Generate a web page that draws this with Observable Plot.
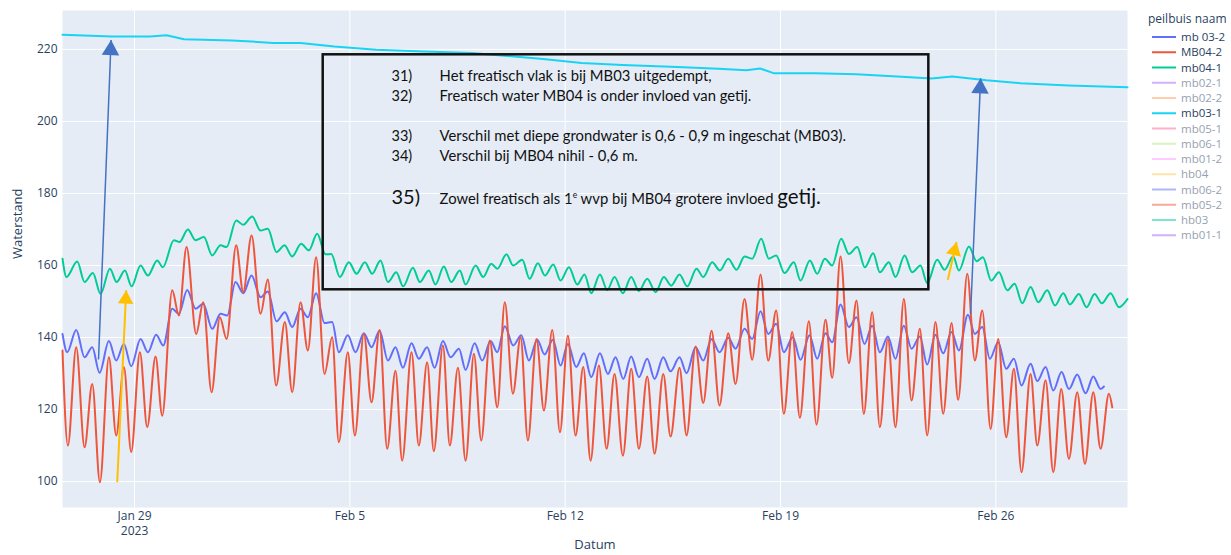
<!DOCTYPE html>
<html><head><meta charset="utf-8">
<script src="https://cdn.jsdelivr.net/npm/d3@7"></script>
<script src="https://cdn.jsdelivr.net/npm/@observablehq/plot@0.6"></script>
<style>
body{margin:0;background:#fff;}
#wrap{position:relative;width:1231px;height:555px;overflow:hidden;font-family:"Open Sans",sans-serif;}
#legend{position:absolute;left:1140px;top:0;}
</style></head><body>
<div id="wrap"><div id="chart"></div><svg id="legend" width="91" height="250"></svg></div>
<script>
// ---- data: time in hours after 2023-01-29 00:00 UTC, Waterstand values ----
const baseDate = "2023-01-29T00:00:00Z";

// mb 03-2 (purple)
const mb03_2_hours = [-56.2,-52.5,-45.5,-39.0,-33.0,-27.3,-20.0,-14.3,-8.3,-2.6,4.7,10.4,16.9,22.4,29.4,34.6,41.1,47.6,53.6,60.6,67.1,72.3,78.8,84.8,91.3,98.3,104.0,110.8,117.3,123.0,129.5,135.2,141.7,148.2,154.2,159.4,166.4,172.4,178.9,184.9,191.2,197.7,203.6,209.4,216.1,221.8,228.3,234.1,240.6,246.6,253.1,258.3,265.3,271.3,277.8,283.0,288.9,295.4,301.7,307.7,314.2,319.9,326.4,332.4,338.1,344.6,350.6,356.3,363.1,369.3,375.3,381.3,387.5,393.5,400.0,405.7,412.5,418.2,425.2,430.7,437.7,443.7,450.2,456.4,463.2,468.9,475.9,481.9,488.4,494.4,500.6,506.6,513.6,519.6,526.6,532.6,539.1,544.3,550.8,557.3,563.3,569.5,575.5,581.5,587.8,593.7,600.2,606.2,612.7,618.4,624.9,630.9,637.4,643.2,650.2,655.6,661.4,667.3,673.8,680.1,686.1,692.0,699.1,704.3,710.8,716.8,723.3,729.0,735.5,742.0,748.0,753.7,756.3];
const mb03_2_level = [141.0,135.9,142.1,134.5,137.3,130.2,139.0,133.6,138.2,132.0,139.6,135.9,140.8,137.8,148.0,146.6,153.2,148.0,149.4,142.4,146.6,146.1,155.4,152.3,157.2,151.2,152.8,144.5,147.0,142.9,148.0,145.6,152.3,144.0,144.3,135.9,140.6,135.9,141.2,137.3,141.9,133.6,137.3,131.6,138.4,134.1,137.3,131.6,139.0,134.5,136.9,131.0,138.4,133.6,139.0,135.9,143.1,137.8,140.6,133.6,139.4,135.3,139.4,132.2,138.2,131.8,135.6,129.0,135.6,129.9,134.5,128.5,134.7,129.0,134.1,128.5,134.5,130.6,134.5,130.1,137.3,133.6,139.6,135.9,139.9,136.9,142.4,139.6,147.3,141.0,143.8,135.9,140.1,133.8,140.6,134.1,141.2,138.7,149.2,142.9,145.6,138.2,143.3,135.9,140.3,134.1,143.3,136.9,140.3,132.5,140.8,135.6,141.5,136.4,146.3,141.0,142.9,134.1,138.7,131.3,134.1,126.7,132.7,127.9,131.8,125.3,130.4,125.7,129.7,124.5,129.2,125.7,126.4];

// MB04-2 (red)
const mb04_2_hours = [-56.2,-52.0,-45.5,-39.0,-33.0,-27.0,-20.0,-14.3,-8.3,-2.6,4.2,9.9,16.4,21.6,29.4,34.6,40.6,48.1,53.6,60.1,66.6,71.8,79.3,84.8,91.3,98.3,104.0,110.5,117.3,123.0,129.5,135.2,141.7,148.2,154.2,159.4,166.4,171.9,178.9,184.9,191.2,197.1,203.6,208.8,216.1,221.8,228.3,233.5,240.6,246.0,252.3,258.3,264.8,270.5,277.2,283.0,288.9,295.2,301.2,306.9,313.6,319.4,325.9,331.9,338.1,344.1,350.1,355.8,362.3,368.3,374.5,381.0,387.5,393.5,400.0,405.7,412.5,418.2,425.2,430.7,437.7,443.7,450.2,456.4,463.2,468.9,475.9,481.9,488.4,494.4,500.6,506.6,513.1,519.1,526.1,532.1,539.1,544.3,550.8,557.3,563.3,569.0,575.5,581.5,587.8,593.7,600.2,606.2,612.7,618.4,624.9,630.9,637.4,642.6,649.7,655.6,661.4,667.9,673.8,680.1,686.1,692.0,699.1,704.3,710.8,716.8,723.0,729.0,735.5,741.5,748.0,753.7,760.2,762.8];
const mb04_2_level = [136.4,110.0,137.3,109.5,127.1,99.8,134.5,112.8,131.8,108.2,135.9,115.1,134.7,118.3,153.1,146.1,165.1,141.0,149.8,124.8,145.6,139.6,165.6,152.6,168.3,146.6,156.1,126.7,144.3,124.8,149.8,136.4,162.3,129.9,140.1,110.9,135.9,112.8,141.0,122.0,142.1,109.1,130.8,105.8,135.9,110.0,133.1,108.4,137.8,110.0,131.6,105.8,135.5,111.4,139.2,120.6,149.8,124.4,140.1,111.4,139.6,119.7,142.1,113.7,140.5,112.8,131.8,105.8,132.2,109.1,129.9,107.2,131.3,109.1,129.2,107.7,129.9,112.5,131.6,112.8,137.5,121.8,141.9,121.1,141.2,127.1,150.7,133.8,157.5,133.6,147.5,118.8,141.5,117.7,144.5,115.8,144.9,128.8,162.5,132.9,150.3,118.8,147.0,115.1,139.6,115.1,150.7,122.5,142.4,112.8,144.3,118.8,144.0,122.7,157.7,133.6,147.5,114.6,139.6,112.3,131.3,102.6,129.9,110.0,128.1,102.6,125.7,106.3,124.8,104.9,124.8,109.1,124.4,120.6];

// mb04-1 (green)
const mb04_1_hours = [-56.2,-53.1,-44.7,-39.0,-32.5,-26.5,-19.2,-14.0,-7.5,-2.3,4.7,10.4,17.7,22.1,30.7,35.1,41.6,47.6,54.1,60.6,67.1,71.8,79.3,84.8,91.8,98.3,104.0,110.8,117.0,123.0,130.0,136.0,142.5,149.0,153.5,160.2,167.2,173.2,179.7,185.4,191.9,197.7,204.2,209.6,217.2,222.6,229.6,234.8,241.3,247.1,253.8,258.3,266.1,272.0,278.3,283.0,290.2,295.4,302.5,308.2,314.7,320.2,326.7,332.4,338.9,345.4,351.1,356.3,363.1,368.8,374.5,381.0,387.5,393.5,400.0,406.5,413.0,418.7,425.2,431.2,438.5,443.7,450.7,456.7,463.2,469.7,475.9,481.9,488.9,494.9,500.6,507.1,514.4,519.6,526.9,532.6,538.6,544.3,551.3,557.3,563.8,569.8,576.3,581.5,588.5,593.7,600.8,606.7,613.2,618.4,626.2,632.0,638.7,643.2,651.0,656.9,661.9,668.4,674.4,680.9,686.6,692.6,699.1,705.1,712.1,718.1,724.6,729.8,736.8,742.8,749.0,754.7,761.5,768.0,774.7];
const mb04_1_level = [161.9,156.8,161.1,155.4,157.9,152.1,159.1,155.4,158.6,154.2,160.0,157.2,161.4,159.5,167.0,166.5,170.0,167.0,167.9,162.8,165.6,165.1,172.5,171.3,173.6,169.7,170.2,163.7,165.6,162.5,166.0,164.2,168.8,163.1,163.2,156.8,160.9,157.7,160.9,157.7,161.4,155.4,158.1,154.2,159.4,155.4,158.6,154.7,159.7,155.4,158.6,154.7,160.0,156.8,160.5,159.1,163.1,160.0,161.6,156.3,160.6,157.2,160.3,155.8,159.5,154.7,157.5,152.3,157.5,153.2,156.8,152.3,156.8,152.9,156.3,152.6,156.8,154.4,157.5,154.2,159.1,156.8,160.9,158.6,161.9,158.8,162.5,161.9,167.4,161.9,162.8,157.9,160.9,155.8,161.4,157.7,161.9,160.0,167.4,163.2,165.1,159.5,163.4,158.1,160.9,156.8,162.8,158.1,160.0,155.1,161.6,158.8,162.5,158.6,165.3,161.2,162.3,155.8,158.1,153.1,154.9,149.5,154.0,149.8,153.1,148.9,152.3,149.2,152.1,148.4,152.1,149.5,152.3,148.4,150.7];

// mb03-1 (cyan)
const mb03_1_hours = [-56.2,-17.9,11.9,25.0,38.6,76.1,108.1,129.5,156.0,188.4,225.9,263.3,316.8,348.8,380.7,423.6,455.6,477.4,488.1,498.5,530.9,563.0,595.1,621.8,637.9,664.7,691.3,728.7,774.7];
const mb03_1_level = [224.1,223.6,223.6,223.9,222.8,222.5,221.8,221.8,220.8,219.9,219.4,219.0,217.4,216.2,215.7,215.1,214.6,214.2,214.7,213.4,213.4,213.1,212.5,211.9,212.5,211.4,210.6,210.0,209.5];

// axes
const yDomain = [92.8, 230.8];
const yTicks = [100, 120, 140, 160, 180, 200, 220];
const tickDates = ["2023-01-29", "2023-02-05", "2023-02-12", "2023-02-19", "2023-02-26"];
const tickLabels = ["Jan 29", "Feb 5", "Feb 12", "Feb 19", "Feb 26"];
const yearLabel = "2023";
const xTitle = "Datum", yTitle = "Waterstand";

// legend
const legendTitle = "peilbuis naam";
const legendNames = ["mb 03-2","MB04-2","mb04-1","mb02-1","mb02-2","mb03-1","mb05-1","mb06-1","mb01-2","hb04","mb06-2","mb05-2","hb03","mb01-1"];
const legendColors = ["#636EFA","#EF553B","#00CC96","#AB63FA","#FFA15A","#19D3F3","#FF6692","#B6E880","#FF97FF","#FECB52","#636EFA","#EF553B","#00CC96","#AB63FA"];
const legendShown = [true,true,true,false,false,true,false,false,false,false,false,false,false,false];

// annotations (hours after baseDate, Waterstand units)
const noteLabels = ["31)", "32)", "33)", "34)", "35)"];
const noteTexts = [
  "Het freatisch vlak is bij MB03 uitgedempt,",
  "Freatisch water MB04 is onder invloed van getij.",
  "Verschil met diepe grondwater is 0,6 - 0,9 m ingeschat (MB03).",
  "Verschil bij MB04 nihil - 0,6 m.",
  "Zowel freatisch als 1ᵉ wvp bij MB04 grotere invloed getij."
];
const noteLevels = [211.1, 205.6, 194.6, 189.0, 177.1];
const noteLabelHour = 200.5, noteTextHour = 238.0;
const noteBox = [{fromHour: 147.2, toHour: 619.7, low: 153.25, high: 218.5}];
const arrows = [
  {fromHour: -28.1, fromLevel: 133.9, toHour: -18.3, toLevel: 222.6, color: "#4472C4"},
  {fromHour: 652.3, fromLevel: 146.6, toHour: 660.1, toLevel: 212.0, color: "#4472C4"},
  {fromHour: -13.5, fromLevel: 99.8, toHour: -6.5, toLevel: 153.1, color: "#FFC000"},
  {fromHour: 634.5, fromLevel: 156.0, toHour: 641.3, toLevel: 166.5, color: "#FFC000"}
];

// ---- build ----
const t0 = Date.parse(baseDate);
const toDate = h => new Date(t0 + h * 3600e3);
const series = (hours, levels) => hours.map((h, i) => ({date: toDate(h), level: levels[i]}));
const purple = series(mb03_2_hours, mb03_2_level);
const red = series(mb04_2_hours, mb04_2_level);
const green = series(mb04_1_hours, mb04_1_level);
const cyan = series(mb03_1_hours, mb03_1_level);
const ticks = tickDates.map(s => new Date(s + "T00:00:00Z"));
const xDomain = d3.extent([...purple, ...red, ...green, ...cyan], d => d.date);

const W = 1231, H = 555, mL = 62, mR = 104, mT = 10, mB = 48;
const pxPerHour = (W - mL - mR) / ((xDomain[1] - xDomain[0]) / 3600e3);
const pxPerUnit = (H - mT - mB) / (yDomain[1] - yDomain[0]);

const lineOpts = {x: "date", y: "level", curve: "monotone-x", strokeWidth: 2, strokeLinejoin: "round", strokeLinecap: "round"};
const tickColor = "#2a3f5f";

const arrowMarks = arrows.flatMap(a => {
  const dxp = (a.toHour - a.fromHour) * pxPerHour, dyp = (a.toLevel - a.fromLevel) * pxPerUnit;
  const ang = Math.atan2(dxp, dyp);
  const r = a.color === "#4472C4" ? 6.5 : 5.7;
  const off = 2 * Math.sqrt(Math.PI * r * r / (3 * Math.sqrt(3)));
  return [
    Plot.link([a], {x1: d => toDate(d.fromHour), y1: "fromLevel", x2: d => toDate(d.toHour), y2: "toLevel", stroke: a.color, strokeWidth: a.color === "#4472C4" ? 1.5 : 2}),
    Plot.dot([a], {x: d => toDate(d.toHour), y: "toLevel", symbol: "triangle", r, fill: a.color, stroke: "none",
      rotate: ang * 180 / Math.PI, dx: -off * Math.sin(ang), dy: off * Math.cos(ang)})
  ];
});

const chart = Plot.plot({
  width: W, height: H,
  marginLeft: mL, marginRight: mR, marginTop: mT, marginBottom: mB,
  style: {background: "white", fontFamily: "'Open Sans', sans-serif", overflow: "visible"},
  x: {type: "utc", domain: xDomain, axis: null},
  y: {domain: yDomain, axis: null},
  marks: [
    Plot.frame({fill: "#E5ECF6", stroke: "none"}),
    Plot.ruleX(ticks, {stroke: "white", strokeWidth: 1}),
    Plot.ruleY(yTicks, {stroke: "white", strokeWidth: 1}),
    Plot.line(purple, {...lineOpts, stroke: legendColors[0]}),
    Plot.line(red, {...lineOpts, stroke: legendColors[1]}),
    Plot.line(green, {...lineOpts, stroke: legendColors[2]}),
    Plot.line(cyan, {x: "date", y: "level", stroke: legendColors[5], strokeWidth: 2, strokeLinejoin: "round"}),
    Plot.rect(noteBox, {x1: d => toDate(d.fromHour), x2: d => toDate(d.toHour), y1: "low", y2: "high", fill: "none", stroke: "#111", strokeWidth: 2.5}),
    Plot.text(noteLabels.slice(0, 4), {x: () => toDate(noteLabelHour), y: (d, i) => noteLevels[i], text: d => d, textAnchor: "start", lineAnchor: "bottom", fontSize: 14.5, fontFamily: "Lato", fill: "#111"}),
    Plot.text(noteLabels.slice(4), {x: () => toDate(noteLabelHour), y: () => noteLevels[4], text: d => d, textAnchor: "start", lineAnchor: "bottom", fontSize: 20, fontFamily: "Lato", fill: "#111"}),
    Plot.text(noteTexts, {x: () => toDate(noteTextHour), y: (d, i) => noteLevels[i], text: d => d, textAnchor: "start", lineAnchor: "bottom", fontSize: 14.8, fontFamily: "Lato", fill: "#111"}),
    ...arrowMarks,
    Plot.text(yTicks, {y: d => d, frameAnchor: "left", dx: -5, textAnchor: "end", text: d => String(d), fontSize: 12, fill: tickColor}),
    Plot.text(ticks, {x: d => d, frameAnchor: "bottom", dy: 4, lineAnchor: "top", text: (d, i) => tickLabels[i], fontSize: 12, fill: tickColor}),
    Plot.text([ticks[0]], {x: d => d, frameAnchor: "bottom", dy: 19, lineAnchor: "top", text: () => yearLabel, fontSize: 12, fill: tickColor}),
    Plot.text([xTitle], {frameAnchor: "bottom", dy: 41, text: d => d, fontSize: 13, fill: tickColor}),
    Plot.text([yTitle], {frameAnchor: "left", dx: -45, rotate: -90, text: d => d, fontSize: 13, fill: tickColor})
  ]
});
document.getElementById("chart").appendChild(chart);

// rich text for the last note: superscript "e" and larger "getij."
chart.querySelectorAll("text").forEach(t => {
  if (t.textContent.startsWith("Zowel")) {
    const s = t.textContent;
    const [a, rest] = s.split("ᵉ");
    const [b] = rest.split("getij.");
    const NS = "http://www.w3.org/2000/svg";
    t.textContent = "";
    t.appendChild(document.createTextNode(a));
    const sup = document.createElementNS(NS, "tspan");
    sup.setAttribute("font-size", "8.5"); sup.setAttribute("dy", "-5.5"); sup.textContent = "e";
    t.appendChild(sup);
    const mid = document.createElementNS(NS, "tspan");
    mid.setAttribute("dy", "5.5"); mid.textContent = b;
    t.appendChild(mid);
    const big = document.createElementNS(NS, "tspan");
    big.setAttribute("font-size", "20.5"); big.textContent = "getij.";
    t.appendChild(big);
  }
});

// legend
const lg = d3.select("#legend");
lg.append("text").attr("x", 8).attr("y", 23).attr("font-size", 12).attr("fill", tickColor)
  .attr("font-family", "'Open Sans', sans-serif").text(legendTitle);
legendNames.forEach((name, i) => {
  const y = 37 + i * 15.25;
  const g = lg.append("g").attr("opacity", legendShown[i] ? 1 : 0.5);
  g.append("line").attr("x1", 12).attr("x2", 36).attr("y1", y).attr("y2", y)
    .attr("stroke", legendColors[i]).attr("stroke-width", 2);
  g.append("text").attr("x", 41).attr("y", y).attr("dy", "0.35em").attr("font-size", 11.5)
    .attr("fill", tickColor).attr("font-family", "'Open Sans', sans-serif").text(name);
});
</script>
</body></html>
